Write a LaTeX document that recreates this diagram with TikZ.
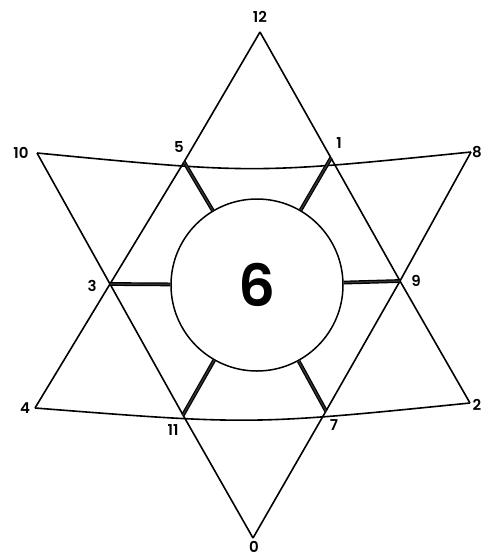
\documentclass[tikz,border=0pt]{standalone}
\usepackage{fontspec}
\setmainfont{Poppins}
\newfontfamily\semib{Poppins SemiBold}
\begin{document}
\begin{tikzpicture}[x=1pt,y=-1pt,
  edge/.style={line width=1.6pt, line join=round},
  spoke/.style={draw=black, line width=1.2pt, double=black!80, double distance=1.4pt},
  lab/.style={font=\fontsize{15}{15}\selectfont\semib, inner sep=0pt},
  hub/.style={circle, draw, line width=1.5pt, minimum size=172pt, inner sep=0pt,
    font=\fontsize{58}{58}\selectfont\semib}]
\useasboundingbox (0,0) rectangle (483,558);
% vertices
\coordinate (p12) at (260,32);
\coordinate (p10) at (37,153);
\coordinate (p8) at (471,152);
\coordinate (p5) at (184,162);
\coordinate (p1) at (331,158);
\coordinate (p3) at (110,284);
\coordinate (p9) at (400,281);
\coordinate (p4) at (35,408);
\coordinate (p2) at (470,403);
\coordinate (p11) at (183,415);
\coordinate (p7) at (326,411);
\coordinate (p0) at (253,538);
\coordinate (ctop) at (254,174);
\coordinate (cbot) at (252,425);
% hub
\node[hub] (hubc) at (257,285) {6};
% triangle edges
\draw[edge] (p12) -- (p5) -- (p3) -- (p4);
\draw[edge] (p12) -- (p1) -- (p9) -- (p2);
\draw[edge] (p10) -- (p3) -- (p11) -- (p0);
\draw[edge] (p8) -- (p9) -- (p7) -- (p0);
\draw[edge] (p10) .. controls (ctop) .. (p8);
\draw[edge] (p4) .. controls (cbot) .. (p2);
% spokes
\foreach \v in {p5,p1,p3,p9,p11,p7}
  \draw[spoke] (\v) -- (hubc);
% labels
\node[lab] (l12) at (260,17) {12};
\node[lab] (l10) at (21,153) {10};
\node[lab] (l8) at (477,152) {8};
\node[lab] (l5) at (179,147) {5};
\node[lab] (l1) at (339,143) {1};
\node[lab] (l3) at (92,286) {3};
\node[lab] (l9) at (416,281) {9};
\node[lab] (l4) at (25,408) {4};
\node[lab] (l2) at (477,405) {2};
\node[lab] (l11) at (173,430) {11};
\node[lab] (l7) at (334,425) {7};
\node[lab] (l0) at (254,547) {0};
\end{tikzpicture}
\end{document}
